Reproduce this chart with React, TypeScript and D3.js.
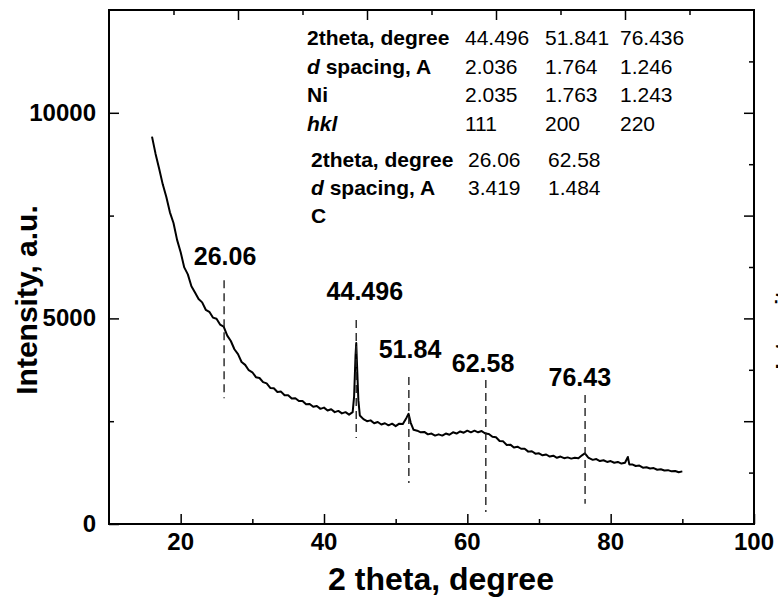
import * as d3 from "d3";
import React, { useEffect, useRef } from "react";

// XRD scan
const twoTheta = [
  16.0, 16.5, 17.0, 17.5, 18.0, 18.5, 19.0, 19.5, 20.0, 20.5, 21.0, 21.5, 22.0, 22.5, 23.0, 23.5,
  24.0, 24.5, 25.0, 25.5, 26.0, 26.5, 27.0, 27.5, 28.0, 28.5, 29.0, 29.5, 30.0, 30.5, 31.0, 31.5,
  32.0, 32.5, 33.0, 33.5, 34.0, 34.5, 35.0, 35.5, 36.0, 36.5, 37.0, 37.5, 38.0, 38.5, 39.0, 39.5,
  40.0, 40.5, 41.0, 41.5, 42.0, 42.5, 43.0, 43.5, 44.0, 44.2, 44.4, 44.5, 44.6, 44.8, 45.0, 45.5,
  46.0, 46.5, 47.0, 47.5, 48.0, 48.5, 49.0, 49.5, 50.0, 50.5, 51.0, 51.5, 51.8, 52.1, 52.5, 53.0,
  53.5, 54.0, 54.5, 55.0, 55.5, 56.0, 56.5, 57.0, 57.5, 58.0, 58.5, 59.0, 59.5, 60.0, 60.5, 61.0,
  61.5, 62.0, 62.5, 63.0, 63.5, 64.0, 64.5, 65.0, 65.5, 66.0, 66.5, 67.0, 67.5, 68.0, 68.5, 69.0,
  69.5, 70.0, 70.5, 71.0, 71.5, 72.0, 72.5, 73.0, 73.5, 74.0, 74.5, 75.0, 75.5, 76.0, 76.4, 76.8,
  77.0, 77.5, 78.0, 78.5, 79.0, 79.5, 80.0, 80.5, 81.0, 81.5, 82.0, 82.4, 82.6, 83.0, 83.5, 84.0,
  84.5, 85.0, 85.5, 86.0, 86.5, 87.0, 87.5, 88.0, 88.5, 89.0, 89.5, 90.0,
];
const intensity = [
  9420, 9000, 8640, 8260, 7950, 7580, 7320, 6910, 6610, 6240, 6070, 5780, 5630, 5470, 5390, 5210,
  5160, 5020, 4990, 4850, 4800, 4580, 4450, 4250, 4130, 3940, 3870, 3740, 3690, 3570, 3550, 3450,
  3420, 3310, 3300, 3210, 3220, 3130, 3130, 3050, 3060, 2990, 2990, 2910, 2920, 2850, 2870, 2800,
  2830, 2760, 2790, 2720, 2750, 2690, 2720, 2660, 2720, 3100, 4100, 4400, 3900, 3000, 2640, 2550,
  2500, 2520, 2450, 2480, 2420, 2450, 2400, 2440, 2380, 2440, 2430, 2580, 2680, 2460, 2290, 2270,
  2230, 2240, 2180, 2200, 2150, 2180, 2150, 2200, 2170, 2230, 2200, 2250, 2220, 2270, 2230, 2270,
  2230, 2260, 2200, 2190, 2120, 2110, 2020, 2010, 1920, 1930, 1860, 1880, 1830, 1830, 1760, 1770,
  1710, 1720, 1670, 1690, 1640, 1660, 1610, 1640, 1600, 1620, 1590, 1610, 1600, 1670, 1720, 1630,
  1600, 1560, 1580, 1530, 1550, 1510, 1530, 1490, 1510, 1470, 1490, 1630, 1450, 1450, 1410, 1420,
  1370, 1380, 1350, 1360, 1320, 1330, 1300, 1310, 1280, 1290, 1260, 1280,
];

// peak markers
const peakPos = [26.06, 44.496, 51.84, 62.58, 76.43];
const peakLabels = ["26.06", "44.496", "51.84", "62.58", "76.43"];
const peakLineTop = [5930, 4960, 3575, 3500, 3135];
const peakLineBottom = [3060, 2090, 1000, 290, 490];
const peakLabelX = [26.2, 45.7, 52.0, 62.2, 75.7];
const peakLabelY = [6300, 5446, 4036, 3695, 3355];

// tables
const niRowNames = ["2theta, degree", "d spacing, A", "Ni", "hkl"];
const niTheta = ["44.496", "51.841", "76.436"];
const niD = ["2.036", "1.764", "1.246"];
const niRef = ["2.035", "1.763", "1.243"];
const niHkl = ["111", "200", "220"];
const cRowNames = ["2theta, degree", "d spacing, A", "C"];
const cTheta = ["26.06", "62.58"];
const cD = ["3.419", "1.484"];

const xTicks = [20, 40, 60, 80, 100];
const yTicks = [0, 5000, 10000];

const App = () => {
  const svgRef = useRef(null);

  const width = 778;
  const height = 602;
  const left = 109;
  const right = 754;
  const top = 10;
  const bottom = 524;
  const font = "'Liberation Sans', Arial, sans-serif";

  const x = d3.scaleLinear().domain([10, 100]).range([left, right]);
  const y = d3.scaleLinear().domain([0, 12500]).range([bottom, top]);

  useEffect(() => {
    const svg = d3.select(svgRef.current);
    svg.selectAll("*").remove();

    svg.append("rect").attr("width", width).attr("height", height).attr("fill", "#fff");

    // minor + major ticks, all pointing inward
    const tickStyle = (g, w) => {
      g.select(".domain").remove();
      g.selectAll("line").attr("stroke", "#000").attr("stroke-width", w);
      g.selectAll("text").remove();
    };
    svg.append("g").attr("transform", `translate(0,${bottom})`)
      .call(d3.axisBottom(x).tickValues(d3.range(30, 100, 20)).tickSize(-5))
      .call((g) => tickStyle(g, 1.5));
    svg.append("g").attr("transform", `translate(0,${bottom})`)
      .call(d3.axisBottom(x).tickValues(xTicks).tickSize(-10))
      .call((g) => tickStyle(g, 1.5));
    svg.append("g").attr("transform", `translate(${left},0)`)
      .call(d3.axisLeft(y).tickValues([2500, 7500]).tickSize(-5))
      .call((g) => tickStyle(g, 1.5));
    svg.append("g").attr("transform", `translate(${left},0)`)
      .call(d3.axisLeft(y).tickValues(yTicks).tickSize(-10))
      .call((g) => tickStyle(g, 1.5));
    // top axis: 5 major intervals
    svg.append("g").attr("transform", `translate(0,${top})`)
      .call(d3.axisTop(x).tickValues(d3.range(19, 100, 18)).tickSize(-5))
      .call((g) => tickStyle(g, 1.5));
    svg.append("g").attr("transform", `translate(0,${top})`)
      .call(d3.axisTop(x).tickValues(d3.range(28, 100, 18)).tickSize(-10))
      .call((g) => tickStyle(g, 1.5));
    // right axis: 10 intervals
    svg.append("g").attr("transform", `translate(${right},0)`)
      .call(d3.axisRight(y).tickValues(d3.range(1250, 12500, 2500)).tickSize(-5))
      .call((g) => tickStyle(g, 1.5));
    svg.append("g").attr("transform", `translate(${right},0)`)
      .call(d3.axisRight(y).tickValues(d3.range(2500, 12500, 2500)).tickSize(-10))
      .call((g) => tickStyle(g, 1.5));

    svg.append("rect")
      .attr("x", left).attr("y", top)
      .attr("width", right - left).attr("height", bottom - top)
      .attr("fill", "none").attr("stroke", "#000").attr("stroke-width", 2);

    // tick labels
    svg.selectAll(".xl").data(xTicks).enter().append("text")
      .attr("x", (d) => x(d)).attr("y", bottom + 26)
      .attr("text-anchor", "middle")
      .style("font", `bold 24px ${font}`)
      .text((d) => d);
    svg.selectAll(".yl").data(yTicks).enter().append("text")
      .attr("x", left - 13).attr("y", (d) => y(d) + 8)
      .attr("text-anchor", "end")
      .style("font", `bold 24px ${font}`)
      .text((d) => d);

    svg.append("text")
      .attr("x", 441).attr("y", 590)
      .attr("text-anchor", "middle")
      .style("font", `bold 32px ${font}`)
      .text("2 theta, degree");
    svg.append("text")
      .attr("transform", "translate(37,300) rotate(-90)")
      .attr("text-anchor", "middle")
      .style("font", `bold 30px ${font}`)
      .text("Intensity, a.u.");
    // label of a neighbouring panel, cut by the right edge
    svg.append("text")
      .attr("transform", "translate(791,300) rotate(-90)")
      .attr("text-anchor", "middle")
      .style("font", `bold 22px ${font}`)
      .text("Intensity, a.u.");

    // pattern
    const pts = twoTheta.map((t, i) => [t, intensity[i]]);
    svg.append("path")
      .datum(pts)
      .attr("d", d3.line().x((d) => x(d[0])).y((d) => y(d[1])))
      .attr("fill", "none")
      .attr("stroke", "#000")
      .attr("stroke-width", 2)
      .attr("stroke-linejoin", "round");

    // dashed peak markers
    svg.selectAll(".pk").data(peakPos).enter().append("line")
      .attr("x1", (d) => x(d)).attr("x2", (d) => x(d))
      .attr("y1", (d, i) => y(peakLineTop[i]))
      .attr("y2", (d, i) => y(peakLineBottom[i]))
      .attr("stroke", "#222").attr("stroke-width", 1.4)
      .attr("stroke-dasharray", "8,5");
    svg.selectAll(".pl").data(peakLabels).enter().append("text")
      .attr("x", (d, i) => x(peakLabelX[i]))
      .attr("y", (d, i) => y(peakLabelY[i]))
      .attr("text-anchor", "middle")
      .style("font", `bold 25px ${font}`)
      .text((d) => d);

    // tables
    const tFont = `21px ${font}`;
    const rowName = (g, name, tx, ty) => {
      const t = g.append("text").attr("x", tx).attr("y", ty).style("font", `bold ${tFont}`);
      if (name.startsWith("d ")) {
        t.append("tspan").style("font-style", "italic").text("d");
        t.append("tspan").text(name.slice(1));
      } else if (name === "hkl") {
        t.append("tspan").style("font-style", "italic").text(name);
      } else {
        t.text(name);
      }
    };
    const niRows = [niTheta, niD, niRef, niHkl];
    const g = svg.append("g");
    niRowNames.forEach((name, r) => {
      const ty = 45 + r * 28.5;
      rowName(g, name, 307, ty);
      niRows[r].forEach((v, c) => {
        g.append("text").attr("x", [465, 545, 620][c]).attr("y", ty)
          .style("font", tFont).text(v);
      });
    });
    const cRows = [cTheta, cD, []];
    cRowNames.forEach((name, r) => {
      const ty = 167 + r * 28;
      rowName(g, name, 311, ty);
      cRows[r].forEach((v, c) => {
        g.append("text").attr("x", [468, 548][c]).attr("y", ty)
          .style("font", tFont).text(v);
      });
    });
  }, []);

  return (
    <svg
      ref={svgRef}
      width={width}
      height={height}
      style={{ position: "absolute", left: 0, top: 0 }}
    />
  );
};

export default App;
